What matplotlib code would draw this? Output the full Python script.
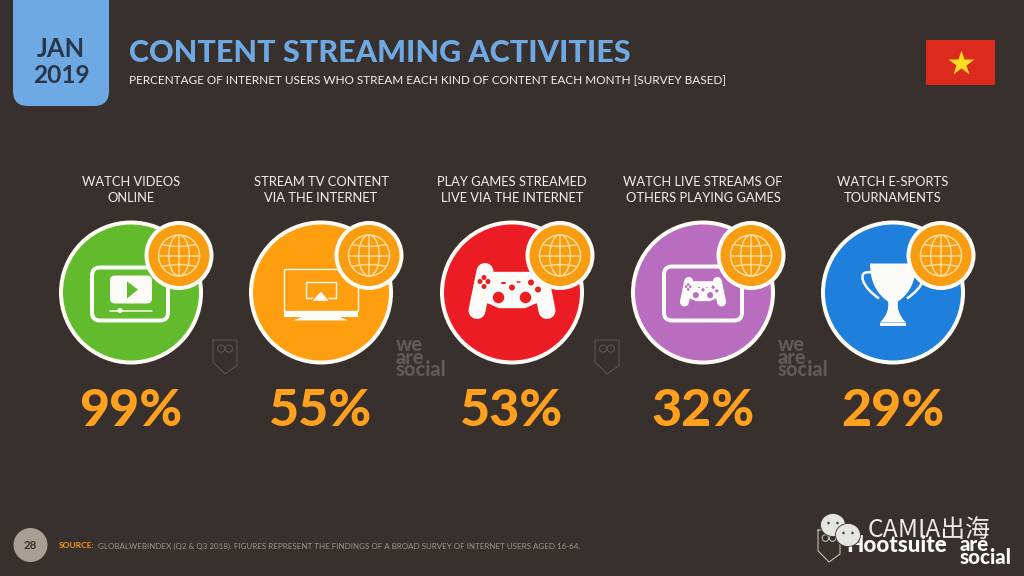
import numpy as np
import matplotlib
matplotlib.use("Agg")
import matplotlib.pyplot as plt
from matplotlib.patches import Circle, Ellipse, FancyBboxPatch, Polygon, Rectangle, PathPatch
from matplotlib.path import Path

# ---- data ----
categories = ["WATCH VIDEOS\nONLINE", "STREAM TV CONTENT\nVIA THE INTERNET",
              "PLAY GAMES STREAMED\nLIVE VIA THE INTERNET",
              "WATCH LIVE STREAMS OF\nOTHERS PLAYING GAMES",
              "WATCH E-SPORTS\nTOURNAMENTS"]
values = [99, 55, 53, 32, 29]
colors = ["#62bb2c", "#ff9e0f", "#ec1c24", "#b86dbf", "#1f7fdc"]
centers_x = [131, 321, 512, 703, 893]

BG = "#38302c"
CREAM = "#fdfbf3"
ORANGE = "#f89c12"
WHITE = "#fbfbf8"
FONT = "Lato"

fig = plt.figure(figsize=(10.24, 5.76), dpi=100, facecolor=BG)
ax = fig.add_axes([0, 0, 1, 1])
ax.set_xlim(0, 1024)
ax.set_ylim(576, 0)
ax.axis("off")
pt = 0.72  # px -> pt


def rrect(x0, y0, x1, y1, r, fc="none", ec="none", lw=0, z=3):
    p = FancyBboxPatch((x0 + r, y0 + r), x1 - x0 - 2 * r, y1 - y0 - 2 * r,
                       boxstyle=f"round,pad={r},rounding_size={r}",
                       fc=fc, ec=ec, lw=lw * pt, zorder=z)
    ax.add_patch(p)


def line(xs, ys, c=WHITE, w=2, z=4, cap="round"):
    ax.plot(xs, ys, color=c, lw=w * pt, solid_capstyle=cap, zorder=z)


def txt(x, y, s, size, color="white", weight="normal", ha="center", va="center", fam=FONT, **kw):
    return ax.text(x, y, s, fontsize=size * pt, color=color, fontweight=weight,
                   ha=ha, va=va, family=fam, **kw)


def globe(cx, cy):
    ax.add_patch(Circle((cx, cy), 32.5, fc=ORANGE, ec=CREAM, lw=4 * pt, zorder=6))
    c = "#fbdc96"
    r = 20.5
    lw = 1.5 * pt
    ax.add_patch(Circle((cx, cy), r, fc="none", ec=c, lw=lw, zorder=7))
    ax.add_patch(Ellipse((cx, cy), r, 2 * r, fc="none", ec=c, lw=lw, zorder=7))
    line([cx, cx], [cy - r, cy + r], c, 1.5, 7)
    line([cx - r, cx + r], [cy, cy], c, 1.5, 7)
    for sg in (-1, 1):
        p = Path([(cx - 17, cy + sg * 11), (cx, cy + sg * 7), (cx + 17, cy + sg * 11)],
                 [Path.MOVETO, Path.CURVE3, Path.CURVE3])
        ax.add_patch(PathPatch(p, fc="none", ec=c, lw=lw, zorder=7))


def gamepad(cx, cy, s, bg):
    w = 17 * s
    for sg in (-1, 1):
        line([cx + sg * 27 * s, cx + sg * 35 * s], [cy - 21 * s, cy + 18 * s], WHITE, w)
    ax.add_patch(Polygon([[cx - 28 * s, cy - 20 * s], [cx + 28 * s, cy - 20 * s],
                          [cx + 36 * s, cy + 6 * s], [cx + 22 * s, cy + 11 * s],
                          [cx + 13 * s, cy + 15 * s], [cx - 13 * s, cy + 15 * s],
                          [cx - 22 * s, cy + 11 * s], [cx - 36 * s, cy + 6 * s]],
                         fc=WHITE, ec=WHITE, lw=1, joinstyle="round", zorder=4))
    for sg in (-1, 1):
        ax.add_patch(Circle((cx + sg * 13.5 * s, cy + 5 * s), 7 * s, fc=bg, ec=WHITE, lw=2.5 * s * pt, zorder=5))
    dots = [(-28, -15), (-32, -11), (-24, -11), (-28, -6), (19, -10), (26, -3), (0, -5)]
    for i, (dx, dy) in enumerate(dots):
        r = 2.5 if i < 4 else 3
        ax.add_patch(Circle((cx + dx * s, cy + dy * s), r * s, fc=bg, ec="none", zorder=5))
    line([cx - 10 * s, cx - 7 * s], [cy - 10 * s, cy - 10 * s], bg, 2 * s, 5)
    line([cx + 5 * s, cx + 8 * s], [cy - 11 * s, cy - 11 * s], bg, 1.5 * s, 5)


def icon_video(cx, cy, bg):
    rrect(cx - 39, cy - 25, cx + 37, cy + 28, 8, ec=WHITE, lw=4)
    rrect(cx - 21, cy - 17, cx + 21, cy + 11, 5, fc=WHITE)
    ax.add_patch(Polygon([[cx - 4, cy - 11], [cx + 7, cy - 3], [cx - 4, cy + 6]], fc=bg, zorder=4))
    line([cx - 21, cx + 21], [cy + 18, cy + 18], WHITE, 1.5)
    ax.add_patch(Circle((cx - 11, cy + 18), 2.5, fc=WHITE, zorder=4))


def icon_tv(cx, cy, bg):
    ax.add_patch(Rectangle((cx - 37, cy - 24), 74, 42, fc="none", ec=WHITE, lw=1.4 * pt, zorder=4))
    ax.add_patch(Rectangle((cx - 37, cy + 18), 74, 6, fc=WHITE, zorder=4))
    ax.add_patch(Polygon([[cx - 18, cy + 24], [cx + 18, cy + 24], [cx + 27, cy + 28], [cx - 28, cy + 28]], fc=WHITE, zorder=4))
    ax.add_patch(Rectangle((cx - 15, cy - 11), 30, 16, fc="none", ec=WHITE, lw=1.4 * pt, zorder=4))
    ax.add_patch(Polygon([[cx - 10, cy + 9], [cx + 9, cy + 9], [cx, cy - 2]], fc=WHITE, ec=bg, lw=1, zorder=5))


def icon_trophy(cx, cy, bg):
    cup = Path([(cx - 23, cy - 29), (cx + 23, cy - 29), (cx + 23, cy - 3), (cx + 5, cy + 9),
                (cx + 3, cy + 20), (cx + 13, cy + 30), (cx - 13, cy + 30),
                (cx - 3, cy + 20), (cx - 5, cy + 9), (cx - 23, cy - 3), (cx - 23, cy - 29)],
               [Path.MOVETO, Path.LINETO, Path.CURVE3, Path.CURVE3,
                Path.CURVE3, Path.CURVE3, Path.LINETO, Path.CURVE3, Path.CURVE3,
                Path.CURVE3, Path.CURVE3])
    ax.add_patch(PathPatch(cup, fc=WHITE, ec="none", zorder=4))
    ax.add_patch(Rectangle((cx - 13, cy + 30), 26, 3.5, fc=WHITE, zorder=4))
    for sg in (-1, 1):
        h = Path([(cx + sg * 21, cy - 20), (cx + sg * 33, cy - 22), (cx + sg * 30, cy - 12),
                  (cx + sg * 27, cy - 3), (cx + sg * 14, cy + 6)],
                 [Path.MOVETO, Path.CURVE3, Path.CURVE3, Path.CURVE3, Path.CURVE3])
        ax.add_patch(PathPatch(h, fc="none", ec=WHITE, lw=2.5 * pt, zorder=4))


def owl(x, y, c="#5f5a56", w=24, h=34, lw=0.9):
    ax.plot([x, x, x + w / 2, x + w, x + w, x],
            [y, y + h * 0.65, y + h, y + h * 0.75, y, y], color=c, lw=lw * pt, zorder=2)
    ax.add_patch(Circle((x + w * 0.34, y + h * 0.25), w * 0.15, fc="none", ec=c, lw=lw * pt, zorder=2))
    ax.add_patch(Circle((x + w * 0.66, y + h * 0.25), w * 0.15, fc="none", ec=c, lw=lw * pt, zorder=2))


def wearesocial(x, y, c="#5f5a56"):
    txt(x, y, "we\nare\nsocial", 20, c, "black", ha="left", va="center", linespacing=0.62, zorder=2)


# ---- header ----
rrect(13, -20, 109, 106, 15, fc="#6fa9e4", z=2)
txt(61, 49, "JAN", 25.5, "#29364a", "bold")
txt(61, 75.5, "2019", 24.5, "#29364a", "bold")
txt(129, 52.5, "CONTENT STREAMING ACTIVITIES", 30.5, "#6fa9e4", "black", ha="left")
txt(129, 80.5, "PERCENTAGE OF INTERNET USERS WHO STREAM EACH KIND OF CONTENT EACH MONTH [SURVEY BASED]", 11.8, "#f5f3ef", ha="left")

# flag
ax.add_patch(Rectangle((926, 40), 69, 45, fc="#dc2a1e", zorder=2))
ax.plot([961], [63], marker="*", ms=27 * pt, color="#fbdc1e", mec="none", zorder=3)

# ---- panels ----
icons = [icon_video, icon_tv, None, None, icon_trophy]
for i, (cat, val, col, cx) in enumerate(zip(categories, values, colors, centers_x)):
    cy = 292.5
    a, b = cat.split("\n")
    txt(cx, 181.5, a, 12.9, "#f3f1ec")
    txt(cx, 198.5, b, 12.9, "#f3f1ec")
    ax.add_patch(Circle((cx, cy), 70, fc=col, ec=CREAM, lw=4 * pt, zorder=2))
    if i == 2:
        gamepad(cx, cy, 1.0, col)
    elif i == 3:
        rrect(cx - 39, cy - 26, cx + 39, cy + 28, 8, ec=WHITE, lw=4)
        gamepad(cx, cy, 0.53, col)
    else:
        icons[i](cx, cy, col)
    globe(cx + 48, cy - 37)
    txt(cx, 412, f"{val}%", 52, "#ffa01e", "black")

# watermarks
owl(213, 340)
owl(595, 340)
wearesocial(396, 357)
wearesocial(778, 357)

# ---- footer ----
ax.add_patch(Circle((30.5, 545), 17, fc="#a89f94", zorder=2))
txt(30.5, 545.5, "28", 11.5, "#38302c", "bold")
txt(59, 546, "SOURCE:", 8.4, "#f59a23", "bold", ha="left")
txt(98.4, 546, "GLOBALWEBINDEX (Q2 & Q3 2018). FIGURES REPRESENT THE FINDINGS OF A BROAD SURVEY OF INTERNET USERS AGED 16-64.",
    8.0, "#9b948c", ha="left")

# bottom-right logos
owl(818, 530, "#cfcac4", 22, 32, 1.0)
txt(846, 546, "Hootsuite", 22.5, WHITE, "black", ha="left")
txt(960, 551, "are\nsocial", 20.5, WHITE, "black", ha="left", linespacing=0.62, zorder=8)
for (x, y, r) in [(833, 525, 12.5), (848, 535, 12.5)]:
    ax.add_patch(Ellipse((x, y), 2 * r, 2 * r * 0.92, fc="#e6e6e0", ec=BG, lw=0.6, zorder=9))
    for dx in (-4.5, 4.5):
        ax.add_patch(Circle((x + dx, y - 2), 1.3, fc="#4a4a46", zorder=10))
txt(868, 530, "CAMIA出海", 24.8, "#ecebe6", fam=["Noto Sans CJK SC", "DejaVu Sans"], ha="left", zorder=11)

fig.savefig("out.png", dpi=100, facecolor=BG)
